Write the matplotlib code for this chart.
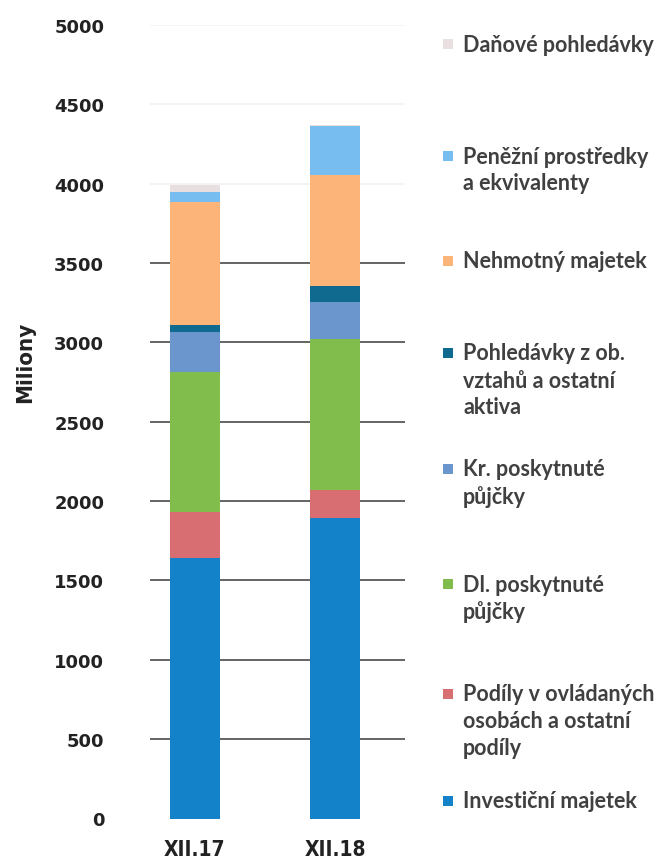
import matplotlib
matplotlib.use("Agg")
import matplotlib.pyplot as plt
from matplotlib.patches import Rectangle

# categories
periods = ["XII.17", "XII.18"]

# series (bottom to top), values in millions
investicni = [1640, 1893]
podily = [293, 177]
dl_pujcky = [882, 951]
kr_pujcky = [251, 233]
pohledavky = [44, 101]
nehmotny = [775, 698]
penezni = [63, 312]
danove = [42, 5]

series = [investicni, podily, dl_pujcky, kr_pujcky,
          pohledavky, nehmotny, penezni, danove]
labels = ["Investiční majetek",
          "Podíly v ovládaných\nosobách a ostatní\npodíly",
          "Dl. poskytnuté\npůjčky",
          "Kr. poskytnuté\npůjčky",
          "Pohledávky z ob.\nvztahů a ostatní\naktiva",
          "Nehmotný majetek",
          "Peněžní prostředky\na ekvivalenty",
          "Daňové pohledávky"]
colors = ["#1482c8", "#d86e72", "#80bd4c", "#6a96cd",
          "#10698f", "#fdb478", "#78bdf0", "#e8e0e0"]

yticks = [0, 500, 1000, 1500, 2000, 2500, 3000, 3500, 4000, 4500, 5000]

W, H = 664, 862
fig = plt.figure(figsize=(W / 100, H / 100), dpi=100)
fig.patch.set_facecolor("white")
ax = fig.add_axes([150 / W, (H - 819.5) / H, 255 / W, 793.5 / H])

# grid lines (upper ones are almost washed out in the scan)
for t in yticks[1:]:
    c = "#3a3a3a" if t <= 3500 else "#f0f0f0"
    ax.axhline(t, color=c, lw=1.1, zorder=1)

x = [0, 1]
bottom = [0, 0]
for vals, col in zip(series, colors):
    ax.bar(x, vals, bottom=bottom, width=0.357, color=col, zorder=2)
    bottom = [b + v for b, v in zip(bottom, vals)]

ax.set_xlim(-0.32, 1.5)
ax.set_ylim(0, 5000)
ax.set_yticks(yticks)
ax.set_yticklabels([str(t) for t in yticks], fontsize=13,
                   fontweight="bold", color="#222222")
ax.set_xticks(x)
ax.set_xticklabels(periods, fontsize=15, fontweight="bold", color="#222222",
                   fontstretch="condensed")
ax.tick_params(axis="y", length=0, pad=33)
ax.tick_params(axis="x", length=0, pad=15)
for s in ax.spines.values():
    s.set_visible(False)

fig.text(25 / W, (H - 362) / H, "Miliony", rotation=90, ha="center",
         va="center", fontsize=16, fontweight="bold", color="#222222",
         fontstretch="condensed",
         family=["Liberation Sans Narrow", "DejaVu Sans"])

# legend, placed by hand like the original
first_line_y = [802, 695, 585, 470, 354, 262, 157, 45]
line_gap = 27
for lab, col, y0 in zip(labels, colors, first_line_y):
    fig.add_artist(Rectangle((443 / W, (H - y0 - 5) / H), 10 / W, 10 / H,
                             transform=fig.transFigure, color=col,
                             lw=0))
    for i, line in enumerate(lab.split("\n")):
        fig.text(463 / W, (H - y0 - i * line_gap) / H, line, ha="left",
                 va="center", fontsize=15.5, fontweight="bold",
                 color="#404040", family=["Lato", "DejaVu Sans"])

fig.savefig("out.png", dpi=100)
